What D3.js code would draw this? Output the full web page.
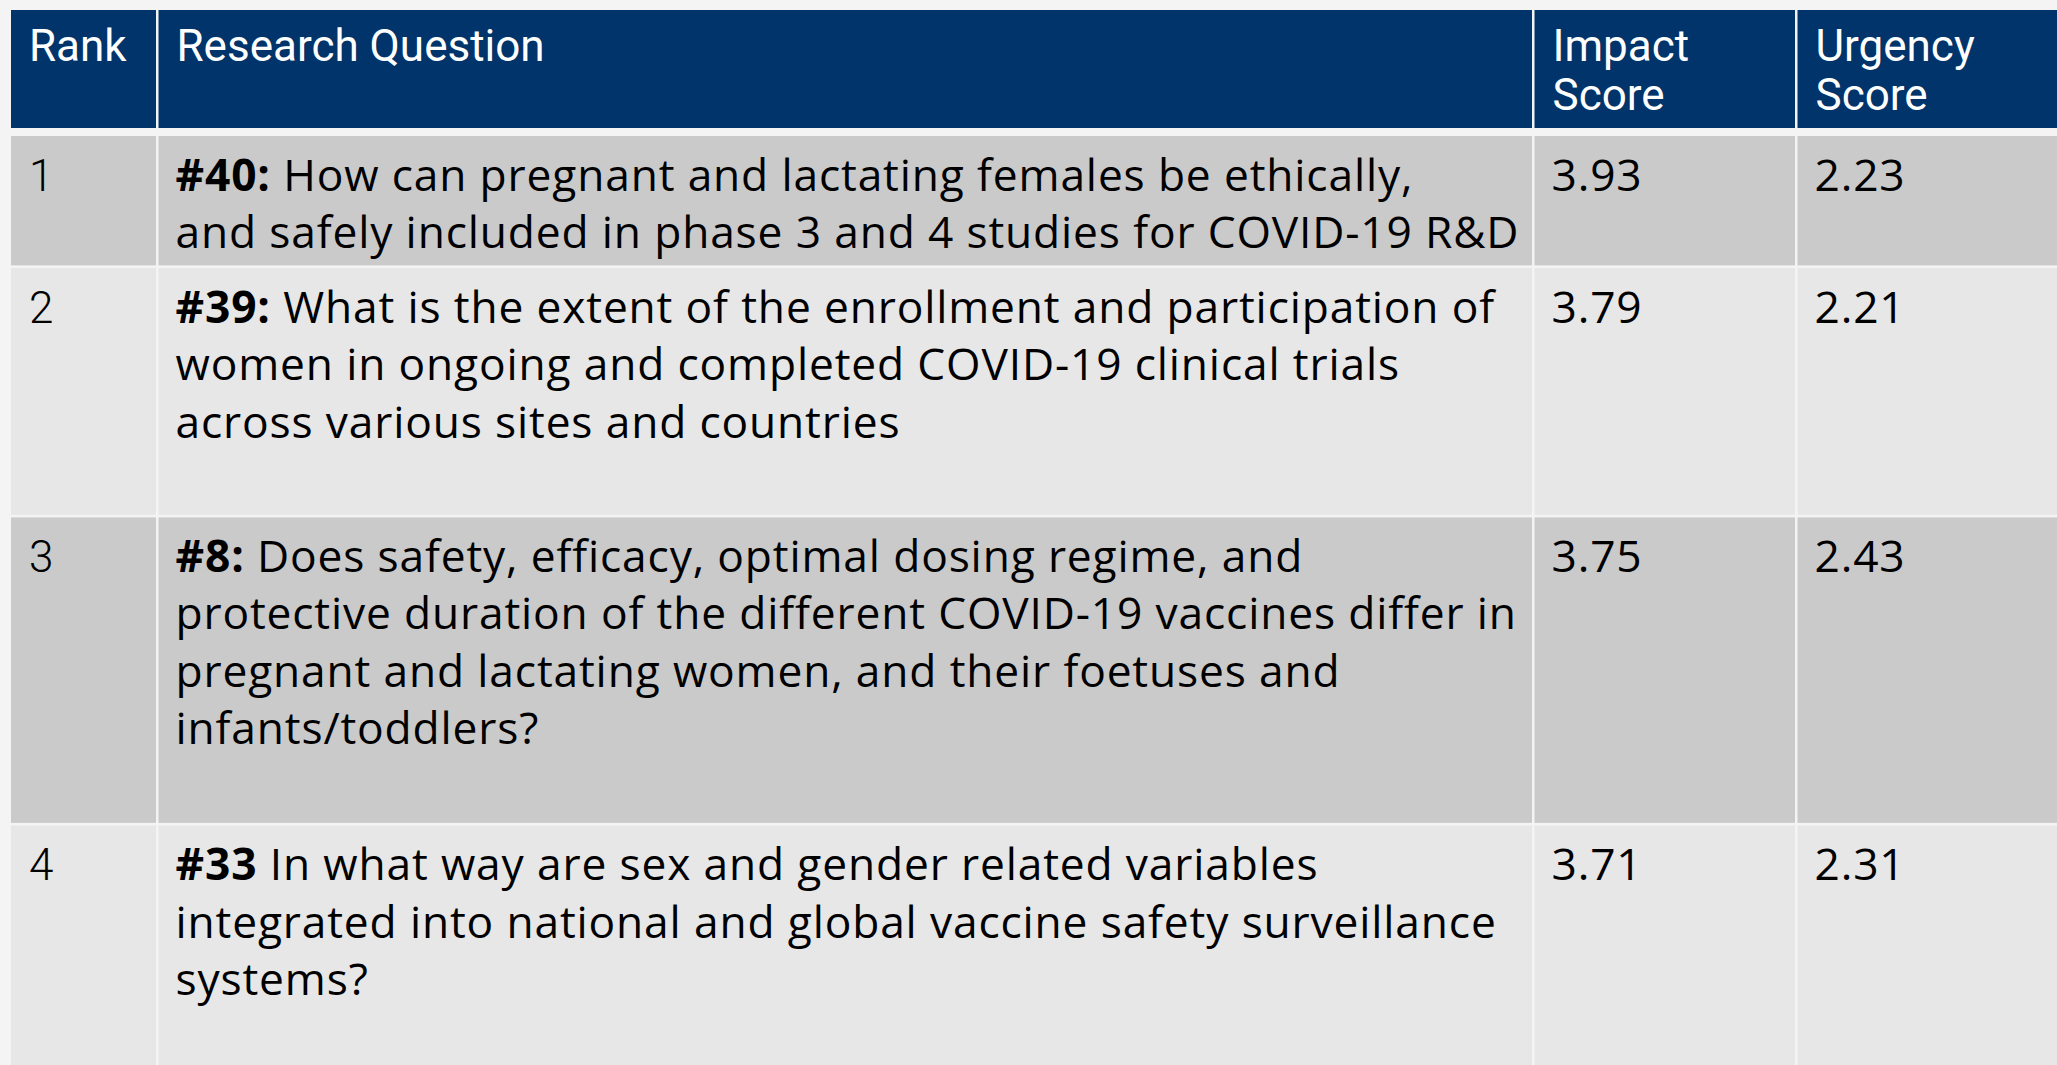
<!DOCTYPE html>
<html>
<head>
<meta charset="utf-8">
<script src="https://cdn.jsdelivr.net/npm/d3@7"></script>
<style>
  html, body { margin: 0; padding: 0; background: #f4f4f4; overflow: hidden; }
  svg { display: block; }
  text { font-family: Roboto, "Noto Sans", sans-serif; }
  .body-text { font-family: "Open Sans", "Noto Sans", sans-serif; letter-spacing: 0.85px; }
</style>
</head>
<body>
<svg id="chart" width="2057" height="1065"></svg>
<script>
// ---------- data ----------
const headers = [["Rank"], ["Research Question"], ["Impact", "Score"], ["Urgency", "Score"]];
const ranks = ["1", "2", "3", "4"];
const questionIds = ["#40:", "#39:", "#8:", "#33"];
const questionLines = [
  ["How can pregnant and lactating females be ethically,",
   "and safely included in phase 3 and 4 studies for COVID-19 R&D"],
  ["What is the extent of the enrollment and participation of",
   "women in ongoing and completed COVID-19 clinical trials",
   "across various sites and countries",
   ""],
  ["Does safety, efficacy, optimal dosing regime, and",
   "protective duration of the different COVID-19 vaccines differ in",
   "pregnant and lactating women, and their foetuses and",
   "infants/toddlers?",
   ""],
  ["In what way are sex and gender related variables",
   "integrated into national and global vaccine safety surveillance",
   "systems?",
   ""]
];
const impactScores = [3.93, 3.79, 3.75, 3.71];
const urgencyScores = [2.23, 2.21, 2.43, 2.31];

// ---------- layout ----------
const svg = d3.select("#chart");
const headFont = 44;
const bodyFont = 44.3;
const lineH = 57.5;
const firstBase = 54.5;
const colEdges = [11, 158.5, 1534.5, 1797.5, 2070];
const gap = 2.5;
const headerTop = 10, headerBottom = 128, bodyTop = 136;
const padX = 17;

const colorHeader = "#00346a";
const rowFill = d3.scaleOrdinal().domain([0, 1]).range(["#cacaca", "#e7e7e7"]);

const rowHeights = questionLines.map(l => 12 + l.length * 58.7);
const rowTops = [];
rowHeights.reduce((y, h) => { rowTops.push(y); return y + h + 2.6; }, bodyTop);

const cols = d3.range(4).map(i => ({ x0: colEdges[i], x1: colEdges[i + 1] - (i < 3 ? gap : 0) }));

// header
const hdr = svg.append("g");
hdr.selectAll("rect").data(cols).join("rect")
  .attr("x", d => d.x0).attr("y", headerTop)
  .attr("width", d => d.x1 - d.x0).attr("height", headerBottom - headerTop)
  .attr("fill", colorHeader);
hdr.selectAll("text").data(headers).join("text")
  .attr("x", (d, i) => cols[i].x0 + padX + 1)
  .attr("y", headerTop + 51)
  .attr("fill", "#ffffff")
  .attr("font-size", headFont)
  .each(function (d) {
    const x = d3.select(this).attr("x");
    d3.select(this).selectAll("tspan").data(d).join("tspan")
      .attr("x", x)
      .attr("dy", (t, j) => j === 0 ? 0 : 49)
      .text(t => t);
  });

// body rows
const rows = svg.append("g").selectAll("g").data(ranks).join("g")
  .attr("transform", (d, i) => `translate(0,${rowTops[i]})`);

rows.each(function (rank, i) {
  const g = d3.select(this);
  g.selectAll("rect").data(cols).join("rect")
    .attr("x", d => d.x0).attr("y", 0)
    .attr("width", d => d.x1 - d.x0).attr("height", rowHeights[i])
    .attr("fill", rowFill(i % 2));

  g.append("text")
    .attr("x", cols[0].x0 + padX + 1).attr("y", firstBase)
    .attr("font-size", headFont).attr("font-weight", 300).attr("fill", "#000")
    .text(rank);

  const num = (col, v) => g.append("text").attr("class", "body-text")
    .attr("x", cols[col].x0 + padX).attr("y", firstBase)
    .attr("font-size", bodyFont).attr("fill", "#000").text(v.toFixed(2));
  num(2, impactScores[i]);
  num(3, urgencyScores[i]);

  const q = g.append("text").attr("class", "body-text")
    .attr("font-size", bodyFont).attr("fill", "#000");
  questionLines[i].forEach((line, j) => {
    if (j === 0) {
      q.append("tspan").attr("x", cols[1].x0 + padX).attr("y", firstBase)
        .attr("font-weight", 700).text(questionIds[i]);
      q.append("tspan").text(" " + line);
    } else if (line) {
      q.append("tspan").attr("x", cols[1].x0 + padX).attr("y", firstBase + j * lineH).text(line);
    }
  });
});
</script>
</body>
</html>
